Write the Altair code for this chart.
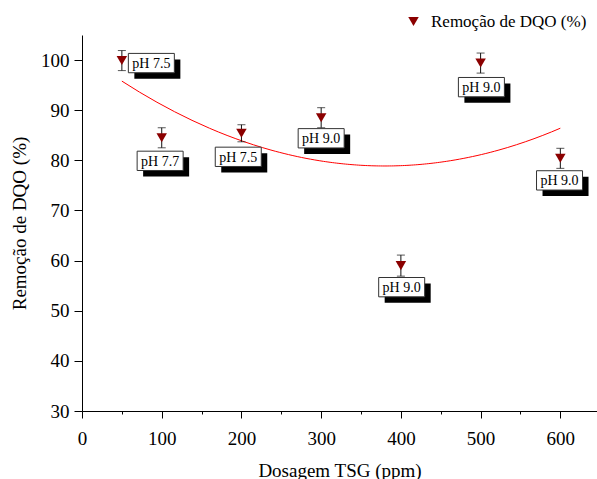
import altair as alt
import pandas as pd

# COD removal measurements per TSG dosage
dosagem = [50, 100, 200, 300, 400, 500, 600]
remocao = [99.9, 84.5, 85.4, 88.5, 59.0, 99.4, 80.4]
erro = [2.0, 2.0, 1.7, 2.0, 2.1, 2.0, 2.0]

# pH annotations placed next to each point (data coordinates)
rotulos = ["pH 7.5", "pH 7.7", "pH 7.5", "pH 9.0", "pH 9.0", "pH 9.0", "pH 9.0"]
rotulo_x = [87, 98, 196, 300, 401, 501, 599]
rotulo_y = [99.4, 79.9, 80.7, 84.4, 54.7, 94.6, 76.0]

serie = "Remoção de DQO (%)"
FONT = "Liberation Serif"

df = pd.DataFrame({
    "dosagem": dosagem,
    "remocao": remocao,
    "lo": [v - e for v, e in zip(remocao, erro)],
    "hi": [v + e for v, e in zip(remocao, erro)],
    "serie": serie,
})
lab = pd.DataFrame({"x": rotulo_x, "y": rotulo_y, "txt": rotulos})

xs = alt.Scale(domain=[0, 646], nice=False, zero=False)
ys = alt.Scale(domain=[30, 105], nice=False, zero=False)

x_axis = alt.Axis(
    values=list(range(0, 601, 50)),
    labelExpr="datum.value % 100 === 0 ? datum.label : ''",
    tickSize={"expr": "datum.value % 100 === 0 ? 7 : 3"},
    labelFlush=False,
    title="Dosagem TSG (ppm)",
    grid=False,
)
y_axis = alt.Axis(
    values=list(range(30, 106, 5)),
    labelExpr="datum.value % 10 === 0 ? datum.label : ''",
    tickSize={"expr": "datum.value % 10 === 0 ? 8 : 3"},
    title="Remoção de DQO (%)",
    grid=False,
)

base = alt.Chart(df)

# error bars: stems and caps
stems = base.mark_rule(color="#111111", strokeWidth=1).encode(
    x=alt.X("dosagem:Q", scale=xs, axis=x_axis),
    y=alt.Y("lo:Q", scale=ys, axis=y_axis),
    y2="hi:Q",
)
caps_hi = base.mark_tick(color="#111111", orient="horizontal", size=8, thickness=1).encode(
    x=alt.X("dosagem:Q", scale=xs), y=alt.Y("hi:Q", scale=ys)
)
caps_lo = base.mark_tick(color="#111111", orient="horizontal", size=8, thickness=1).encode(
    x=alt.X("dosagem:Q", scale=xs), y=alt.Y("lo:Q", scale=ys)
)

pontos = base.mark_point(shape="triangle-down", filled=True, size=110, opacity=1).encode(
    x=alt.X("dosagem:Q", scale=xs),
    y=alt.Y("remocao:Q", scale=ys),
    color=alt.Color(
        "serie:N",
        scale=alt.Scale(range=["#8b0000"]),
        legend=alt.Legend(
            title=None,
            orient="none",
            legendX=323,
            legendY=-22,
            symbolType="triangle-down",
            symbolSize=110,
            labelFont=FONT,
            labelFontSize=17,
            labelColor="black",
            labelOffset=9,
            padding=0,
        ),
    ),
)

# second-order polynomial fit of the measurements
ajuste = base.transform_regression(
    "dosagem", "remocao", method="poly", order=2, extent=[50, 600]
).mark_line(color="#ff0000", strokeWidth=1).encode(
    x=alt.X("dosagem:Q", scale=xs), y=alt.Y("remocao:Q", scale=ys)
)

caixa = "M-1,-0.42L1,-0.42L1,0.42L-1,0.42Z"
sombra = alt.Chart(lab).mark_point(
    shape=caixa, size=2116, filled=True, color="black", opacity=1, xOffset=6, yOffset=6
).encode(x=alt.X("x:Q", scale=xs), y=alt.Y("y:Q", scale=ys))
moldura = alt.Chart(lab).mark_point(
    shape=caixa, size=2116, filled=True, fill="white", stroke="#333333", strokeWidth=1, opacity=1
).encode(x=alt.X("x:Q", scale=xs), y=alt.Y("y:Q", scale=ys))
texto = alt.Chart(lab).mark_text(font=FONT, fontSize=14, color="black", dy=1).encode(
    x=alt.X("x:Q", scale=xs), y=alt.Y("y:Q", scale=ys), text="txt:N"
)

chart = alt.layer(
    ajuste, stems, caps_hi, caps_lo, pontos, sombra, moldura, texto
).properties(
    width=515,
    height=376,
    autosize=alt.AutoSizeParams(type="none"),
    padding={"left": 82, "top": 35, "right": 0, "bottom": 68},
    background="white",
).configure_view(stroke=None).configure_axis(
    domainColor="black",
    tickColor="black",
    labelFont=FONT,
    labelFontSize=19,
    labelColor="black",
    titleFont=FONT,
    titleFontSize=19,
    titleFontWeight="normal",
    titleColor="black",
).configure_axisX(labelPadding=11, titlePadding=13).configure_axisY(
    labelPadding=5, titlePadding=11
)

chart.save("out.html", embed_options={"renderer": "svg", "actions": False})
